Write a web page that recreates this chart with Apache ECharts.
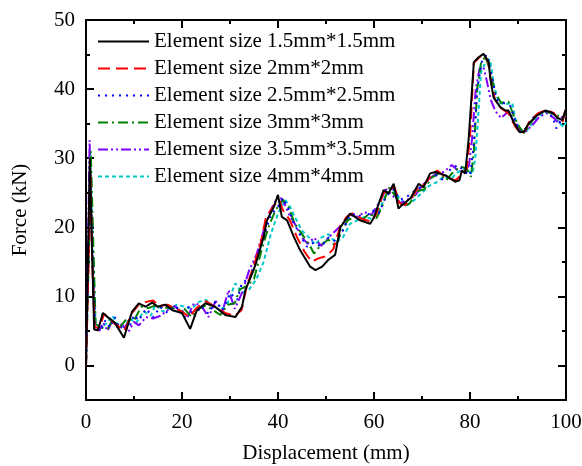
<!DOCTYPE html>
<html>
<head>
<meta charset="utf-8">
<script src="https://cdn.jsdelivr.net/npm/echarts@6/dist/echarts.min.js"></script>
<style>
  html, body { margin: 0; padding: 0; background: #fff; }
  #chart { width: 582px; height: 466px; }
</style>
</head>
<body>
<div id="chart"></div>
<script>
// Force–displacement curves for six mesh (element) sizes: [displacement mm, force kN]
const seriesNames = [
  'Element size 1.5mm*1.5mm',
  'Element size 2mm*2mm',
  'Element size 2.5mm*2.5mm',
  'Element size 3mm*3mm',
  'Element size 3.5mm*3.5mm',
  'Element size 4mm*4mm'
];

const size15 = [[0,0],[0.4,15],[0.8,30],[1.2,18],[1.7,5.2],[2.5,5.1],[3.5,7.6],[4.5,7],[6,6.2],[7.9,4],[9.6,7.8],[11,9],[12.4,8.5],[13.8,9.1],[14.9,8.5],[16.5,8.8],[18,8],[20,7.6],[21.7,5.3],[23.1,8],[24.9,9],[26.9,8.5],[29,7.3],[31.1,7],[32.5,8.5],[33.2,10.9],[34.9,13.8],[35.5,15],[37,18.6],[37.7,21],[39.1,22.9],[40,24.7],[40.8,21.5],[41.9,21],[43.3,18.6],[44.6,16.7],[46.7,14.3],[47.8,13.8],[49.2,14.3],[50.5,15.3],[51.9,16],[53,20],[54,21],[55,22],[57.1,21],[59.2,20.5],[59.9,21.3],[62,25.4],[63,24.9],[64.1,26.3],[65.1,22.7],[65.8,23.2],[67.6,24.2],[69.3,26.3],[70.3,25.8],[71.7,27.8],[72.8,28],[74.9,27.5],[76.9,26.6],[77.8,26.8],[78.3,28.2],[79,27.8],[79.7,32.6],[80.8,43.9],[81.8,44.6],[82.8,45.1],[83.9,43.9],[84.2,41.7],[84.9,38.8],[86.3,37.4],[87.4,36.9],[88,36.9],[89.1,35.2],[90.3,33.8],[91.2,33.8],[92.2,35],[94,36.2],[95.7,36.9],[97.1,36.6],[98.1,35.9],[99.2,35.5],[100,37.1]];

const size2 = [[0,0],[0.5,14],[0.9,28],[1.3,15],[1.8,5.5],[2.8,5.5],[3.8,7.5],[5.2,6.5],[6.5,5.8],[8,5],[9.5,7.5],[11,8.8],[12.5,9.2],[14,9.4],[15.2,8.6],[17,8.8],[18.5,8.3],[20,7.8],[21.5,7],[23,8.3],[25,9.3],[27,8.4],[29,7.6],[31,7.2],[32.4,8],[33.5,11.5],[35,14.5],[36.5,18],[37.5,21.5],[39,23],[40.2,24],[41,22.5],[42.5,21],[44,18.5],[45.5,16.5],[47,15],[48.4,15.5],[50,15.8],[51.5,16.8],[53,20.2],[54.3,21.5],[55.5,22],[57.5,21.2],[59.5,20.8],[60.5,22],[62,25],[63.2,25.5],[64.3,25.8],[65.3,23.5],[66.5,23.2],[68,24.5],[69.5,26],[70.5,26.2],[72,27.5],[73.2,28.2],[75,27.2],[77,26.8],[78.5,27.8],[79.3,28.5],[80,33],[80.8,43.8],[81.8,44.5],[82.8,45],[83.8,44],[84.5,40.5],[85.2,38.5],[86.5,37.2],[88,36.5],[89.5,34.5],[90.5,33.7],[91.5,34],[92.5,35.5],[94.2,36.5],[96,37],[97.5,36.5],[98.5,35.5],[99.3,35.2],[100,37.5]];

const size25 = [[0,0],[0.4,12],[0.8,29.5],[1.3,16],[1.9,6],[3,5],[4,6.5],[5,5.5],[6,7],[7,5.3],[8,6],[9,5.5],[10,7.3],[11,6.5],[12.5,8.2],[14,7],[15.5,8.5],[17,7.6],[18.5,8.6],[20,7.8],[21.5,8.5],[22.5,7],[24,8.6],[25.5,7.5],[27,9.3],[28.5,8],[30,10.5],[31.5,9.5],[32.5,12],[34,12.5],[35.5,15.5],[37,18.5],[38.5,21.8],[40,23],[41,24.2],[42,23],[43,21],[44.5,19],[46,17.2],[47.5,17.8],[49,17.2],[50.5,18.5],[52,18],[53.5,19.5],[55,21.8],[56.5,22],[58,21],[59.5,22.5],[61,22],[62.5,24.5],[64,25.5],[65.5,24],[67,24.5],[68.5,25.3],[70,26],[71.5,27],[73,27.5],[74.5,26.8],[76,28.5],[77.5,29],[79,28],[80,27.5],[80.8,32],[81.5,40],[82.5,44],[83.5,45],[84.5,42],[85.5,38.5],[87,38],[88.5,37.5],[89.5,35],[90.5,33.7],[91.5,34.2],[93,35.8],[94.5,36.5],[96,36.8],[97.2,36],[98,34.3],[99,35.5],[100,36.5]];

const size3 = [[0,0],[0.5,14],[1,31],[1.5,18],[2,6],[3,5.5],[4.5,5.3],[5.5,6.5],[7,5.5],[8.5,6.8],[10,6.5],[11.5,8.5],[13,8.3],[14.5,8.7],[16,8.2],[17.5,8.5],[19,8],[20.5,8.2],[22,7],[23.5,8.2],[25,8.7],[26.5,8],[28,7.3],[29.5,8.8],[31,9],[32,11],[33.5,11.5],[35,12.5],[36.5,16.5],[38,20],[39.5,22.5],[41,24],[42.3,22.8],[43.5,20.5],[45,19],[46.5,17.5],[47.5,16.2],[49,17.5],[50.5,18.2],[52,17.3],[53,19],[54.5,21],[56,21.5],[57.5,21],[59,22],[60.5,21.3],[62,23.5],[63,25.8],[64.5,24.5],[66,23],[67.5,23.5],[69,25.2],[70.5,25.5],[72,27.2],[73.5,27.8],[75,26.8],[76.5,28],[78,28.8],[79.3,28.5],[80.2,27.3],[80.8,31],[81.5,40],[82.3,43.8],[83.2,44.7],[84.3,42.5],[85.2,39.5],[86.5,38],[88,38.2],[89.2,36],[90.3,34.5],[91.3,33.6],[92.5,35],[94,36.3],[95.5,36.8],[97,36.5],[98.2,36.2],[99.3,36],[100,36.2]];

const size35 = [[0,0],[0.4,16],[0.75,32.6],[1.2,20],[1.8,6],[2.8,5],[3.6,6.2],[4.5,5],[5.5,6.5],[6.5,5.5],[7.5,6],[8.8,4.8],[10,6.3],[11,5.8],[12.5,7],[14,6.8],[15.5,7.2],[17,8],[18.5,8.6],[20,7.5],[21,6.8],[22.5,9],[24,8.7],[25.5,7],[27,9.3],[28.5,8],[29.7,10.9],[31,8.2],[32.5,10.5],[34,13.8],[35.5,16],[37,19.5],[38.5,22.5],[40,24.5],[41,24],[42.2,22],[43.5,20.5],[45,18.5],[46.2,17.6],[47.5,18.5],[49,17.3],[50.5,18.5],[52,19.5],[53.5,20.5],[55,21.8],[56.5,21.5],[58,22.2],[59.5,21.8],[61,23.5],[62.5,25.5],[64,24.5],[65.5,23.5],[67,24],[68.5,24.5],[70,26],[71.5,27],[73,27.8],[74.5,28],[76.2,29],[77.5,28.2],[79,28],[79.8,29],[80.4,32.6],[81.2,40],[82,43],[82.8,43.2],[83.5,41.2],[84.3,38.5],[85.3,36.8],[86.5,35.8],[88,36.8],[89.2,35.5],[90.5,34],[91.5,33.8],[93,34.8],[94.5,36],[96,36.5],[97.5,35.8],[98.5,35],[99.3,36.2],[100,36]];

const size4 = [[0,0],[0.5,14],[0.9,30.7],[1.4,17],[2,6.2],[3,5.5],[4.2,6],[5.5,7.2],[6.5,6],[8,5.5],[9,6.8],[10.5,6.2],[12,7.8],[13.5,7.2],[14.5,8.8],[16,7.8],[17.5,8.3],[19,8.8],[20.5,8.5],[22,8.2],[23.5,9.2],[25,9.5],[26.5,8.6],[28,8],[29.5,9],[31.1,11.9],[32.5,10.5],[34,11],[35.5,12.5],[37,15],[38.5,19],[40,22],[41.5,24],[42.5,23],[43.5,21.5],[45,19.5],[46.5,18.5],[47.8,17.5],[49,18.5],[50.5,19],[52,17.8],[53.5,18.5],[55,20.5],[56.5,21],[58,21.5],[59.5,21.2],[61,22.3],[62.5,24.8],[64,25.5],[65.5,24],[67,23.2],[68.5,24],[70,25],[71.5,26],[73,26.5],[74.5,27.3],[76,27],[77.5,28],[79,28.5],[80.5,27.7],[81.1,30],[81.7,36],[82.3,42.5],[83.2,43.8],[84.2,44.3],[85,40.5],[86,38],[87.5,37.8],[88.8,38],[89.5,35.5],[90.5,34],[91.5,33.7],[93,35],[94.5,36.2],[96,36.8],[97.5,36.5],[98.5,35.2],[99.5,34.5],[100,35.2]];

// Axis ticks
const yMajorTicks = [0, 10, 20, 30, 40, 50];
const yMinorTicks = [5, 15, 25, 35, 45];

const seriesData = [size15, size2, size25, size3, size35, size4];
const colors = ['#000000', '#ff0000', '#0000ff', '#008000', '#8000ff', '#00c8c8'];
const dashes = ['solid', [12, 6], [2, 5], [10, 4, 2, 4], [10, 3, 2, 3, 2, 3], [4, 3]];

const FONT = "'Liberation Serif', 'Times New Roman', serif";
const axisLineStyle = { color: '#000', width: 2 };

function xAxisDef(pos, labels) {
  return {
    type: 'value', position: pos, min: 0, max: 100, interval: 20,
    axisLine: { show: true, onZero: false, lineStyle: axisLineStyle },
    axisTick: { show: true, inside: true, length: 8, lineStyle: { color: '#000', width: 2 } },
    minorTick: { show: true, splitNumber: 2, length: 4, lineStyle: { color: '#000', width: 2 } },
    axisLabel: { show: labels, color: '#000', fontFamily: FONT, fontSize: 21, margin: 12 },
    splitLine: { show: false },
    name: labels ? 'Displacement (mm)' : '',
    nameLocation: 'middle', nameGap: 43,
    nameTextStyle: { color: '#000', fontFamily: FONT, fontSize: 21 }
  };
}

function yAxisDef(pos, labels, major) {
  const ticks = major ? yMajorTicks : yMinorTicks;
  return {
    type: 'value', position: pos, min: -5, max: 50,
    axisLine: { show: major, onZero: false, lineStyle: axisLineStyle },
    axisTick: { show: true, inside: true, length: major ? 8 : 4, customValues: ticks,
                lineStyle: { color: '#000', width: 2 } },
    axisLabel: { show: labels, customValues: yMajorTicks, color: '#000', fontFamily: FONT, fontSize: 21, margin: 11 },
    splitLine: { show: false },
    name: labels ? 'Force (kN)' : '',
    nameLocation: 'middle', nameGap: 55, nameRotate: 90,
    nameTextStyle: { color: '#000', fontFamily: FONT, fontSize: 21 }
  };
}

const chart = echarts.init(document.getElementById('chart'), null, { renderer: 'canvas' });
chart.setOption({
  backgroundColor: '#fff',
  animation: false,
  grid: { left: 86, right: 16, top: 20, bottom: 66, containLabel: false, outerBoundsMode: 'none' },
  legend: {
    orient: 'vertical', left: 97, top: 31, padding: 0,
    itemWidth: 51, itemHeight: 14, itemGap: 6,
    itemStyle: { opacity: 0 },
    textStyle: { color: '#000', fontFamily: FONT, fontSize: 21, lineHeight: 21 },
    data: seriesNames
  },
  xAxis: [xAxisDef('bottom', true), xAxisDef('top', false)],
  yAxis: [
    yAxisDef('left', true, true), yAxisDef('left', false, false),
    yAxisDef('right', false, true), yAxisDef('right', false, false)
  ],
  series: seriesNames.map((name, i) => ({
    name, type: 'line', xAxisIndex: 0, yAxisIndex: 0,
    data: seriesData[i], showSymbol: false, symbol: 'none',
    color: colors[i],
    lineStyle: { color: colors[i], width: 2, type: dashes[i] },
    z: 10 - i
  }))
});
</script>
</body>
</html>
